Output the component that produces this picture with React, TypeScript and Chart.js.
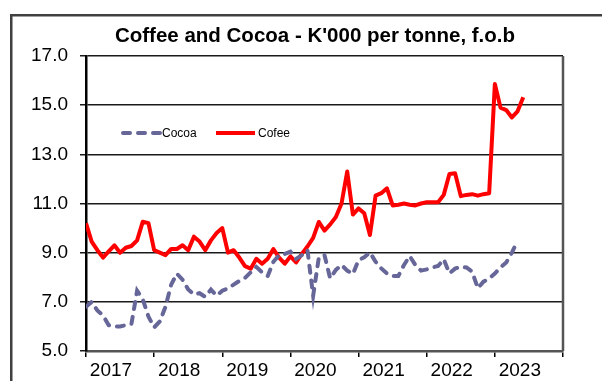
import React, { useEffect, useRef } from 'react';
import { Chart, registerables } from 'chart.js';

Chart.register(...registerables);

const title = "Coffee and Cocoa - K'000 per tonne, f.o.b";
const years = ['2017', '2018', '2019', '2020', '2021', '2022', '2023'];
const seriesNames = ['Cocoa', 'Cofee'];

// Monthly values, Jan 2017 onwards (K'000 per tonne)
const cocoa = [
  6.8, 7.0, 6.65, 6.45, 6.05, 6.0, 6.0, 6.05, 6.1, 7.45, 7.1, 6.4,
  5.96, 6.2, 6.8, 7.7, 8.15, 7.9, 7.5, 7.3, 7.35, 7.2, 7.5, 7.25,
  7.45, 7.55, 7.7, 7.85, 7.97, 8.2, 8.42, 8.2, 8.05, 8.63, 8.9, 8.95,
  9.04, 8.75, 8.9, 9.1, 7.25, 8.8, 8.9, 7.95, 8.3, 8.5, 8.27, 8.13,
  8.7, 8.81, 9.01, 8.63, 8.36, 8.15, 8.05, 8.05, 8.5, 8.86, 8.5, 8.27,
  8.32, 8.4, 8.46, 8.73, 8.16, 8.35, 8.43, 8.4, 8.23, 7.55, 7.82, 7.95,
  8.15, 8.4, 8.6, 9.0, 9.49,
];

const coffee = [
  10.2, 9.45, 9.1, 8.8, 9.05, 9.3, 9.0, 9.2, 9.27, 9.5, 10.26, 10.2,
  9.1, 9.0, 8.9, 9.15, 9.15, 9.3, 9.1, 9.65, 9.45, 9.1, 9.5, 9.8,
  10.0, 9.0, 9.1, 8.8, 8.45, 8.35, 8.75, 8.55, 8.75, 9.15, 8.8, 8.55,
  8.85, 8.6, 8.95, 9.25, 9.6, 10.25, 9.9, 10.15, 10.45, 11.0, 12.3, 10.55,
  10.8, 10.6, 9.72, 11.32, 11.42, 11.62, 10.92, 10.95, 11.0, 10.95, 10.92, 11.0,
  11.05, 11.05, 11.05, 11.35, 12.2, 12.23, 11.3, 11.35, 11.38, 11.32, 11.38, 11.42,
  15.86, 14.9, 14.8, 14.5, 14.75, 15.32,
];

const yMin = 5;
const yMax = 17;
const yStep = 2;

const FONT = '"Liberation Sans", Arial, Helvetica, sans-serif';
const COCOA_COLOR = '#666699';
const COFFEE_COLOR = '#ff0000';

export default function App() {
  const ref = useRef<HTMLCanvasElement>(null);

  useEffect(() => {
    if (!ref.current) return;

    const decor = {
      id: 'decor',
      beforeDraw(chart: any) {
        const ctx = chart.ctx;
        ctx.save();
        ctx.fillStyle = '#ffffff';
        ctx.fillRect(0, 0, chart.width, chart.height);
        ctx.strokeStyle = '#404040';
        ctx.lineWidth = 2.5;
        ctx.strokeRect(11.25, 15.25, 800, 600);
        ctx.restore();
      },
      afterDraw(chart: any) {
        const ctx = chart.ctx;
        const a = chart.chartArea;
        ctx.save();
        // right border of plot area
        ctx.strokeStyle = '#555555';
        ctx.lineWidth = 2.5;
        ctx.beginPath();
        ctx.moveTo(a.right, a.top);
        ctx.lineTo(a.right, a.bottom);
        ctx.stroke();

        // title
        ctx.fillStyle = '#000';
        ctx.font = `bold 20.5px ${FONT}`;
        ctx.textAlign = 'center';
        ctx.textBaseline = 'alphabetic';
        ctx.fillText(title, 315, 42);

        // legend
        const ly = a.top + 77;
        const lx = a.left + 35;
        ctx.lineWidth = 4;
        ctx.lineCap = 'round';
        ctx.strokeStyle = COCOA_COLOR;
        ctx.setLineDash([7, 8]);
        ctx.beginPath();
        ctx.moveTo(lx + 2, ly);
        ctx.lineTo(lx + 39, ly);
        ctx.stroke();
        ctx.setLineDash([]);
        ctx.lineCap = 'butt';
        ctx.strokeStyle = COFFEE_COLOR;
        ctx.beginPath();
        ctx.moveTo(lx + 95, ly);
        ctx.lineTo(lx + 134, ly);
        ctx.stroke();

        ctx.fillStyle = '#000';
        ctx.font = `12px ${FONT}`;
        ctx.textAlign = 'left';
        ctx.textBaseline = 'middle';
        ctx.fillText(seriesNames[0], lx + 41, ly + 1);
        ctx.fillText(seriesNames[1], lx + 137, ly + 1);
        ctx.restore();
      },
    };

    const chart = new Chart(ref.current, {
      type: 'line',
      data: {
        datasets: [
          {
            label: seriesNames[0],
            data: cocoa.map((v, i) => ({ x: i, y: v })),
            borderColor: COCOA_COLOR,
            borderWidth: 4,
            borderDash: [7, 8],
            borderCapStyle: 'round',
            pointRadius: 0,
            tension: 0,
            fill: false,
          },
          {
            label: seriesNames[1],
            data: coffee.map((v, i) => ({ x: i, y: v })),
            borderColor: COFFEE_COLOR,
            borderWidth: 4,
            borderJoinStyle: 'round',
            pointRadius: 0,
            tension: 0,
            fill: false,
          },
        ],
      },
      options: {
        responsive: false,
        animation: false,
        devicePixelRatio: 1,
        layout: { padding: { left: 26, right: 39, top: 56, bottom: 0 } },
        plugins: {
          legend: { display: false },
          title: { display: false },
          tooltip: { enabled: false },
        },
        scales: {
          x: {
            type: 'linear',
            min: 0,
            max: years.length * 12,
            afterFit: (s: any) => {
              s.height = 30;
            },
            ticks: {
              stepSize: 12,
              autoSkip: false,
              maxRotation: 0,
              labelOffset: 25,
              padding: 2,
              color: '#000',
              font: { family: FONT, size: 19 },
              callback: (v: any) => {
                const idx = Math.round(Number(v) / 12);
                return idx < years.length ? years[idx] : '';
              },
            },
            grid: {
              drawOnChartArea: false,
              drawTicks: true,
              tickLength: 6,
              color: '#000',
              lineWidth: 1.5,
            },
            border: { display: true, color: '#555555', width: 2.5 },
          },
          y: {
            min: yMin,
            max: yMax,
            afterFit: (s: any) => {
              s.width = 60;
            },
            ticks: {
              stepSize: yStep,
              padding: 12,
              color: '#000',
              font: { family: FONT, size: 19 },
              callback: (v: any) => Number(v).toFixed(1),
            },
            grid: {
              color: '#1a1a1a',
              lineWidth: 1.5,
              tickLength: 6,
            },
            border: { display: true, color: '#000', width: 2.5 },
          },
        },
      },
      plugins: [decor],
    } as any);

    return () => chart.destroy();
  }, []);

  return (
    <div style={{ position: 'fixed', left: 0, top: 0, width: 602, height: 381, background: '#fff' }}>
      <canvas ref={ref} width={602} height={381} style={{ display: 'block', width: 602, height: 381 }} />
    </div>
  );
}
